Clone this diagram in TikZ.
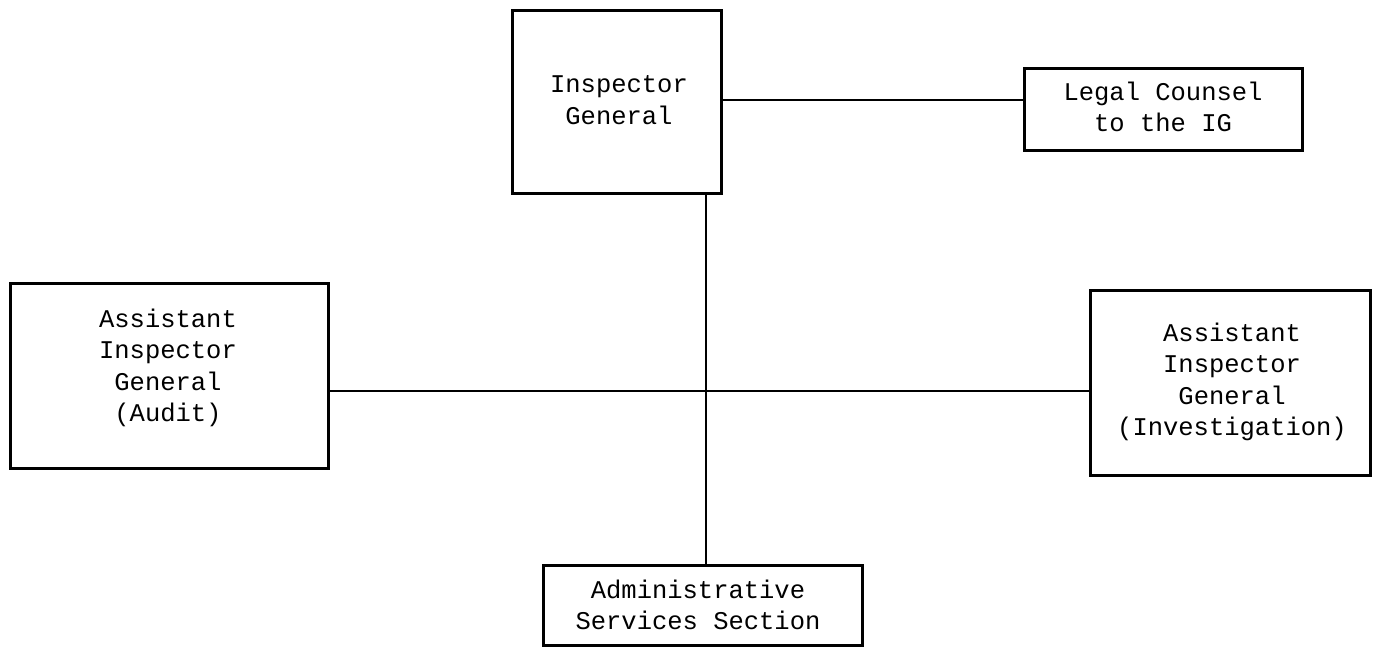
\documentclass[tikz,border=0pt]{standalone}
\usepackage{fontspec}
\setmonofont{Liberation Mono}
\begin{document}
\begin{tikzpicture}[x=1pt,y=-1pt,
  box/.style={draw,line width=3pt,inner sep=0pt},
  lbl/.style={font=\ttfamily\fontsize{25.5}{31.5}\selectfont,align=center},
  link/.style={line width=2.6pt}]
\useasboundingbox (0,0) rectangle (1399,657);
% boxes
\draw[box] (512,10) rectangle (721,193);
\node[lbl] (ig) at (619,100) {Inspector\\General};
\coordinate (igb) at (706,193);
\coordinate (igr) at (721,100);
\draw[box] (1024,68) rectangle (1302,150);
\node[lbl] (lc) at (1163,107) {Legal Counsel\\to the IG};
\coordinate (lcl) at (1024,100);
\draw[box] (10,283) rectangle (328,468);
\node[lbl] (aa) at (168,368) {Assistant\\Inspector\\General\\(Audit)};
\coordinate (aar) at (328,391);
\draw[box] (1090,290) rectangle (1370,475);
\node[lbl] (ai) at (1232,382) {Assistant\\Inspector\\General\\(Investigation)};
\coordinate (ail) at (1090,391);
\draw[box] (543,565) rectangle (862,645);
\node[lbl] (as) at (698,605) {Administrative\\Services Section};
\coordinate (ast) at (706,565);
% connectors
\draw[link] (igr) -- (lcl);
\draw[link] (igb) -- (ast);
\draw[link] (aar) -- (ail);
\end{tikzpicture}
\end{document}
